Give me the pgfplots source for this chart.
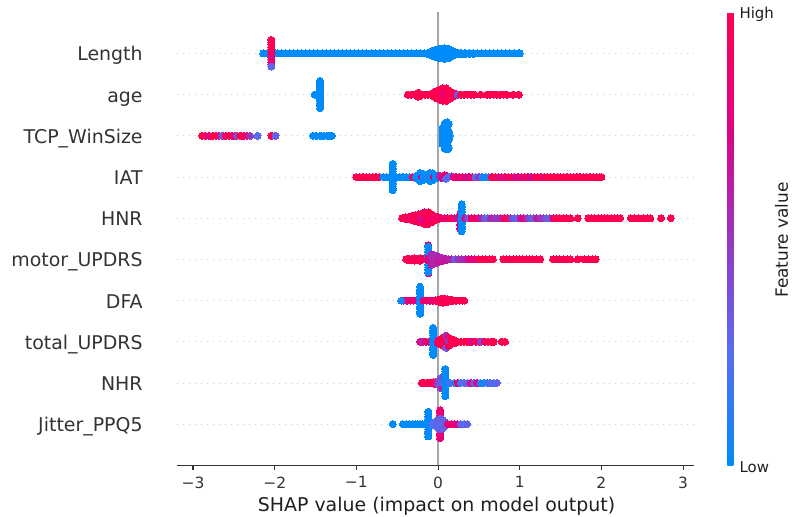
\documentclass[border=0pt]{standalone}
\usepackage{fontspec}
\setmainfont{DejaVu Sans}
\usepackage{pgfplots}
\pgfplotsset{compat=1.18}
\definecolor{txt}{RGB}{51,51,51}
\pgfplotsset{sw/.style={scatter,only marks,scatter src=explicit,mark=*,mark size=3.5bp,
  scatter/use mapped color={draw=mapped color,fill=mapped color},mark options={line width=0pt}}}
\begin{document}
\begin{tikzpicture}[x=1bp,y=1bp]
\path[use as bounding box] (0,0) rectangle (792,517);
\begin{axis}[
  at={(176.7bp,51.7bp)},anchor=south west,
  scale only axis,width=517.3bp,height=453bp,
  xmin=-3.2,xmax=3.134,ymin=-1,ymax=10,
  axis x line*=bottom,axis y line*=left,
  y axis line style={draw=none},
  x axis line style={draw=txt,line width=1.1bp,-},
  xtick={-3,-2,-1,0,1,2,3},
  xticklabels={−3,−2,−1,0,1,2,3},
  ytick={0,1,2,3,4,5,6,7,8,9},
  yticklabels={Jitter\_PPQ5,NHR,total\_UPDRS,DFA,motor\_UPDRS,HNR,IAT,TCP\_WinSize,age,Length},
  tick align=outside,
  xtick style={draw=txt,line width=1.1bp},
  ytick style={draw=none},
  major tick length=4.7bp,
  x tick label style={font=\fontsize{15.5}{18}\selectfont,text=txt,yshift=-3.2bp},
  y tick label style={font=\fontsize{19}{22}\selectfont,text=txt,inner sep=0pt,anchor=base east,xshift=-29.2bp,yshift=-7.5bp},
  xlabel={SHAP value (impact on model output)},
  xlabel style={font=\fontsize{19}{22}\selectfont,text=black!88,yshift=-2bp,xshift=1.2bp},
  ymajorgrids,
  major grid style={draw=black!20,line width=0.7bp,dash pattern=on 1bp off 5bp},
  clip=false,
  colormap={shap}{rgb255=(0,139,251) rgb255=(88,108,240) rgb255=(150,55,195) rgb255=(225,0,130) rgb255=(255,0,81)},
  point meta min=0,point meta max=1,
  colorbar,
  colorbar style={at={(1.0644,0)},anchor=south west,width=6bp,height=453bp,scale only axis,
    ytick={0,1},yticklabels={Low,High},major tick length=0pt,
    ytick style={draw=none},axis line style={draw=none},
    y tick label style={font=\fontsize{15}{18}\selectfont,text=black!88,inner sep=0pt,xshift=6bp,yshift=-2bp}},
]
% Length
\addplot[sw] coordinates {
(-2.14,9)[0](-2.09,9)[0](-1.99,9)[0](-1.96,9)[0](-1.92,9)[0](-1.87,9)[0](-1.82,9)[0](-1.77,9)[0](-1.72,9)[0](-1.67,9)[0](-1.62,9)[0](-1.57,9)[0](-1.52,9)[0](-1.47,9)[0](-1.42,9)[0](-1.37,9)[0](-1.32,9)[0](-1.27,9)[0](-1.22,9)[0](-1.17,9)[0](-1.12,9)[0](-1.07,9)[0](-1.02,9)[0](-0.97,9)[0](-0.92,9)[0](-0.87,9)[0](-0.82,9)[0](-0.77,9)[0](-0.72,9)[0](-0.67,9)[0](-0.62,9)[0](-0.57,9)[0](-0.52,9)[0](-0.47,9)[0](-0.42,9)[0](-0.37,9)[0](-0.32,9)[0](-0.27,9)[0](-0.22,9)[0](-0.17,9)[0]
(-0.12,9.02)[0](-0.12,8.98)[0](-0.08,9.05)[0](-0.08,8.95)[0](-0.04,9.075)[0](-0.04,8.925)[0](0,9.1)[0](0,8.9)[0](0,9)[0](0.04,9.12)[0](0.04,8.88)[0](0.04,9)[0](0.08,9.13)[0](0.08,8.87)[0](0.08,9)[0](0.12,9.12)[0](0.12,8.88)[0](0.12,9)[0](0.16,9.08)[0](0.16,8.92)[0](0.2,9.04)[0](0.2,8.96)[0](0.24,9.02)[0](0.24,8.98)[0]
(0.28,9.015)[0](0.28,8.985)[0](0.33,9.015)[0](0.33,8.985)[0](0.38,9.01)[0](0.38,8.99)[0](0.43,9.01)[0](0.43,8.99)[0](0.48,9)[0](0.53,9)[0](0.58,9)[0](0.63,9)[0](0.68,9)[0](0.73,9)[0](0.78,9)[0](0.83,9)[0](0.88,9)[0](0.93,9)[0](0.98,9)[0](1.0,9)[0]
(-2.04,9.33)[1](-2.04,9.27)[1](-2.04,9.21)[1](-2.04,9.15)[1](-2.04,9.09)[1](-2.04,9.03)[1](-2.04,8.97)[0.85](-2.04,8.91)[0.9](-2.04,8.85)[0.7](-2.04,8.79)[0.9](-2.04,8.73)[0.7](-2.04,8.68)[0.28]
};
% age
\addplot[sw] coordinates {
(-1.445,8.33)[0](-1.445,8.27)[0](-1.445,8.21)[0](-1.445,8.15)[0](-1.445,8.09)[0](-1.445,8.03)[0](-1.445,7.97)[0](-1.445,7.91)[0](-1.445,7.85)[0](-1.445,7.79)[0](-1.445,7.73)[0](-1.445,7.67)[0](-1.51,8)[0]
(-0.37,8)[1](-0.33,8)[1](-0.29,8)[1](-0.25,8)[1](-0.24,8.05)[1](-0.24,7.95)[1](-0.2,8)[1](-0.16,8)[1](-0.12,8)[1](-0.09,8)[1]
(-0.06,8.04)[1](-0.06,7.96)[1](-0.02,8.09)[1](-0.02,7.91)[1](-0.02,8)[1](0.02,8.12)[1](0.02,7.88)[1](0.02,8)[1](0.06,8.15)[1](0.06,7.85)[0.9](0.06,8.04)[0.8](0.1,8.15)[1](0.1,7.85)[1](0.1,8)[0.85](0.14,8.1)[1](0.14,7.9)[1](0.14,8)[1](0.18,8.05)[1](0.18,7.95)[1](0.22,8.02)[1](0.22,7.98)[0.9](0.24,8)[0.35](0.28,8)[1](0.32,8)[1](0.36,8)[1](0.40,8)[1](0.44,8)[1](0.52,8)[1](0.6,8)[1](0.64,8)[1](0.68,8)[1](0.72,8)[1](0.76,8)[1](0.8,8)[1](0.84,8)[1](0.92,8)[1](0.99,8)[1]
};
% TCP_WinSize
\addplot[sw] coordinates {
(-2.89,7)[1](-2.85,7)[1](-2.80,7)[0.75](-2.76,7)[1](-2.72,7)[1](-2.68,7)[0.9](-2.64,7)[0.35](-2.60,7)[1](-2.56,7)[0.9](-2.52,7)[1](-2.49,7)[0.85](-2.46,7)[0.35](-2.42,7)[1](-2.38,7)[0.9](-2.34,7)[1](-2.30,7)[0.5](-2.21,7)[0.25](-2.04,7)[1](-1.99,7)[0.3]
(-1.53,7)[0](-1.49,7)[0](-1.44,7)[0](-1.40,7)[0](-1.36,7)[0](-1.33,7)[0](-1.30,7)[0]
(0.056,7.2)[0](0.056,7.12)[0](0.056,7.04)[0](0.056,6.96)[0](0.056,6.88)[0](0.056,6.8)[0](0.08,7.3)[0](0.08,7.1)[0](0.08,6.9)[0](0.08,6.7)[0]
(0.11,7.33)[0](0.11,7.27)[0](0.11,7.21)[0](0.11,7.15)[0](0.11,7.09)[0](0.11,7.03)[0](0.11,6.97)[0](0.11,6.91)[0](0.11,6.85)[0](0.11,6.79)[0](0.11,6.73)[0](0.11,6.67)[0](0.145,7)[0](0.13,7.28)[0](0.13,6.7)[0](0.13,7.1)[0](0.13,6.9)[0]
};
% IAT
\addplot[sw] coordinates {
(-1.0,6)[1](-0.96,6)[1](-0.92,6)[1](-0.88,6)[1](-0.84,6)[1](-0.8,6)[1](-0.76,6)[1](-0.72,6)[1]
(-0.67,6)[0](-0.63,6)[0](-0.59,6)[0]
(-0.555,6.32)[0](-0.555,6.26)[0](-0.555,6.2)[0](-0.555,6.14)[0](-0.555,6.08)[0](-0.555,6.02)[0](-0.555,5.96)[0](-0.555,5.9)[0](-0.555,5.84)[0](-0.555,5.78)[0](-0.555,5.72)[0](-0.555,5.68)[0]
(-0.51,6)[0](-0.47,6)[0](-0.43,6)[0](-0.39,6)[0](-0.35,6)[0](-0.31,6)[0.95](-0.27,6)[0]
(-0.25,6.05)[0](-0.25,5.95)[0](-0.22,6.1)[0](-0.22,5.9)[0](-0.2,6)[0.75](-0.18,6.07)[0](-0.18,5.93)[0](-0.14,6.06)[0](-0.14,5.94)[0](-0.12,6)[0.1](-0.1,6.1)[0](-0.1,5.9)[0](-0.07,6.09)[0](-0.07,5.92)[0](-0.05,6)[0.8](-0.03,6.04)[0](-0.03,5.96)[0]
(0.02,6.03)[0.6](0.05,5.97)[0.7](0.08,6.05)[0.8](0.1,5.96)[0.25](0.13,6)[0.2](0.16,6.02)[0.25](0.19,6)[0.75](0.22,6)[0.8](0.26,6)[0.85](0.3,6)[0.9](0.34,6)[0.7](0.38,6)[0.75](0.42,6)[0.85](0.46,6)[0.25](0.5,6)[0.5](0.54,6)[0.1](0.58,6)[0.05](0.62,6)[0.1]
(0.66,6)[1](0.7,6)[1](0.74,6)[0.7](0.78,6)[1](0.82,6)[0.7](0.86,6)[0.9](0.9,6)[1](0.94,6)[0.7](0.98,6)[0.85](1.02,6)[0.7](1.06,6)[1](1.1,6)[0.8](1.14,6)[0.7](1.18,6)[0.85](1.22,6)[1](1.26,6)[1](1.3,6)[0.8](1.34,6)[1](1.38,6)[1](1.42,6)[1](1.46,6)[1](1.5,6)[1](1.54,6)[1](1.58,6)[1](1.62,6)[1](1.66,6)[1](1.7,6)[1](1.74,6)[1](1.78,6)[1](1.82,6)[1](1.86,6)[1](1.9,6)[1](1.94,6)[1](1.98,6)[1](2.0,6)[1]
};
% HNR
\addplot[sw] coordinates {
(-0.44,5)[1](-0.40,5.02)[1](-0.40,4.98)[1](-0.36,5.03)[1](-0.36,4.97)[0.85](-0.32,5.05)[1](-0.32,4.95)[1](-0.32,5)[0.9](-0.28,5.07)[0.85](-0.28,4.93)[1](-0.28,5)[1](-0.24,5.09)[1](-0.24,4.91)[0.85](-0.24,5)[0.95](-0.2,5.11)[1](-0.2,4.89)[1](-0.2,5)[0.65](-0.16,5.14)[0.85](-0.16,4.86)[1](-0.16,5.05)[1](-0.16,4.95)[0.85](-0.12,5.14)[1](-0.12,4.86)[0.9](-0.12,5)[1](-0.08,5.1)[1](-0.08,4.9)[1](-0.08,5)[0.85](-0.04,5.05)[1](-0.04,4.95)[1](-0.04,5)[0.9](0,5.02)[0.85](0,4.98)[1]
(0.04,5)[0.75](0.08,5)[1](0.12,5)[0.8](0.16,5)[1](0.2,5)[0.85](0.24,5)[0.65](0.27,4.85)[0.8](0.27,4.75)[0.8](0.27,5.1)[0.8]
(0.29,5.34)[0](0.29,5.28)[0](0.29,5.22)[0](0.29,5.16)[0](0.29,5.1)[0](0.29,5.04)[0](0.29,4.98)[0](0.29,4.92)[0](0.29,4.86)[0](0.29,4.8)[0](0.29,4.74)[0](0.29,4.68)[0]
(0.33,5)[0.7](0.37,5)[0.35](0.41,5)[0.8](0.45,5)[1](0.49,5)[0.8](0.53,5)[0.6](0.57,5)[0.35](0.61,5)[0.3](0.65,5)[0.6](0.69,5)[0.5](0.73,5)[0.5](0.77,5)[0.55](0.81,5)[0.9](0.85,5)[1](0.89,5)[0.55](0.93,5)[0.3](0.97,5)[0.3](1.01,5)[0.65](1.05,5)[0.8](1.09,5)[0.55](1.13,5)[0.35](1.17,5)[0.3](1.21,5)[0.65](1.25,5)[0.55](1.29,5)[0.5](1.33,5)[0.35](1.37,5)[0.3](1.41,5)[0.85]
(1.45,5)[1](1.49,5)[1](1.53,5)[1](1.57,5)[1](1.62,5)[1](1.71,5)[1](1.84,5)[1](1.88,5)[1](1.92,5)[1](1.96,5)[1](2.0,5)[1](2.04,5)[1](2.08,5)[1](2.12,5)[1](2.16,5)[1](2.2,5)[1](2.23,5)[1](2.36,5)[1](2.41,5)[1](2.46,5)[1](2.51,5)[1](2.56,5)[1](2.6,5)[1](2.73,5)[1](2.85,5)[1]
};
% motor_UPDRS
\addplot[sw] coordinates {
(-0.39,4)[1](-0.36,4.02)[1](-0.36,3.98)[1](-0.32,4)[0.9](-0.29,4.03)[1](-0.29,3.97)[0.95](-0.25,4)[1](-0.22,4.03)[0.9](-0.22,3.97)[1](-0.18,4)[0.85](-0.15,4.02)[1]
(-0.12,4.34)[0.8](-0.12,3.66)[0.8]
(-0.12,4.31)[0](-0.12,4.25)[0](-0.12,4.19)[0](-0.12,4.13)[0](-0.12,4.07)[0](-0.12,3.93)[0](-0.12,3.87)[0](-0.12,3.81)[0](-0.12,3.75)[0](-0.12,3.69)[0]
(-0.12,4.02)[0.9](-0.12,3.98)[0.8]
(-0.08,4.13)[0.55](-0.08,3.87)[0.6](-0.07,4)[0.55](-0.04,4.1)[0.55](-0.04,3.9)[0.6](-0.02,4)[0.6](0.01,4.06)[0.6](0.01,3.94)[0.65](0.05,4.04)[0.55](0.05,3.96)[0.65](0.09,4.02)[0.6](0.09,3.98)[0.65](0.13,4)[0.6](0.17,4)[0.6](0.21,4)[0.3](0.25,4)[0.5](0.29,4)[0.55](0.33,4)[0.55](0.37,4)[0.7](0.41,4)[0.8](0.45,4)[0.75]
(0.5,4)[1](0.54,4)[1](0.58,4)[1](0.63,4)[1](0.67,4)[1](0.8,4)[1](0.84,4)[1](0.88,4)[1](0.92,4)[1](0.96,4)[1](1.0,4)[1](1.04,4)[1](1.08,4)[1](1.12,4)[1](1.16,4)[1](1.2,4)[1](1.25,4)[1](1.41,4)[1](1.45,4)[1](1.49,4)[1](1.54,4)[1](1.58,4)[1](1.62,4)[1](1.71,4)[1](1.79,4)[1](1.84,4)[1](1.93,4)[1](1.89,4)[1]
};
% DFA
\addplot[sw] coordinates {
(-0.42,3)[0.8](-0.38,3)[0.8](-0.34,3)[0.85](-0.3,3)[0.8](-0.26,3)[0.8]
(-0.45,3)[0.05]
(-0.22,3.34)[0](-0.22,3.28)[0](-0.22,3.22)[0](-0.22,3.16)[0](-0.22,3.1)[0](-0.22,3.04)[0](-0.22,2.98)[0](-0.22,2.92)[0](-0.22,2.86)[0](-0.22,2.8)[0](-0.22,2.74)[0](-0.22,2.68)[0]
(-0.18,3)[0.8](-0.14,3)[0.85](-0.1,3)[0.8](-0.06,3)[0.85](-0.03,3.01)[0.9](0,3.02)[1](0,2.98)[0.85](0.03,3.04)[1](0.03,2.96)[1](0.06,3.05)[1](0.06,2.95)[1](0.09,3.04)[1](0.09,2.96)[0.9](0.12,3.03)[0.9](0.12,2.97)[1](0.15,3.02)[1](0.15,2.98)[1](0.18,3.01)[1](0.18,2.99)[1](0.22,3)[1](0.26,3)[1](0.3,3)[1](0.32,3)[1]
};
% total_UPDRS
\addplot[sw] coordinates {
(-0.22,2)[0.8](-0.19,2)[0.55](-0.15,2)[0.85](-0.11,2)[0.9](-0.07,2)[0.85]
(-0.06,2.34)[0](-0.06,2.28)[0](-0.06,2.22)[0](-0.06,2.16)[0](-0.06,2.1)[0](-0.06,2.04)[0](-0.06,1.98)[0](-0.06,1.92)[0](-0.06,1.86)[0](-0.06,1.8)[0](-0.06,1.74)[0](-0.06,1.68)[0]
(0,2.03)[1](0,1.97)[0.9](0.03,2.06)[1](0.03,1.94)[1](0.06,2.1)[1](0.06,1.9)[1](0.06,2)[1](0.1,2.15)[0.55](0.1,1.85)[0.35](0.1,2)[1](0.13,2.1)[1](0.13,1.9)[0.9](0.13,2.03)[0.45](0.16,2.06)[1](0.16,1.94)[1](0.2,2.04)[1](0.2,1.96)[1](0.24,2)[1](0.28,2)[1](0.32,2)[1](0.36,2)[1](0.39,2)[1](0.42,2)[0.7](0.46,2)[1](0.5,2)[0.9](0.53,2)[0.4](0.57,2)[0.9](0.61,2)[1](0.65,2)[1](0.68,2)[1](0.78,2)[1](0.82,2)[1]
};
% zero line
\addplot[draw=black!35,line width=2.6bp,forget plot] coordinates {(0,-1)(0,10)};
% NHR
\addplot[sw] coordinates {
(-0.2,1)[1](-0.17,1)[1](-0.14,1)[1](-0.11,1.01)[1](-0.11,0.99)[1](-0.08,1.01)[1](-0.08,0.99)[0.95](-0.05,1.02)[1](-0.05,0.98)[1](-0.02,1.02)[0.95](-0.02,0.98)[0.9]
(0,1.04)[0.45](0,0.96)[0.4](0.03,1.12)[0.35](0.03,0.88)[0.4](0.03,1)[0.35](0.06,1.1)[0.4](0.06,0.9)[0.85](0.06,1)[0.3]
(0.09,1.34)[0](0.09,1.28)[0](0.09,1.22)[0](0.09,1.16)[0](0.09,1.1)[0](0.09,1.04)[0](0.09,0.98)[0.05](0.09,0.92)[0](0.09,0.86)[0](0.09,0.8)[0](0.09,0.74)[0](0.09,0.68)[0]
(0.15,1)[0.2](0.2,1)[0.15](0.24,1)[0.85](0.28,1)[0.15](0.32,1)[0.25](0.36,1)[0.3](0.40,1)[0.75](0.44,1)[0.3](0.48,1)[0.75](0.52,1)[0.1](0.56,1)[0.05](0.6,1)[0.1](0.64,1)[0.3](0.68,1)[0.15](0.72,1)[0.3]
};
% Jitter_PPQ5
\addplot[sw] coordinates {
(-0.555,0)[0](-0.43,0)[0](-0.39,0)[0](-0.355,0)[0](-0.31,0)[0](-0.28,0)[0](-0.25,0)[0](-0.22,0)[0](-0.19,0)[0](-0.16,0)[0]
(-0.12,0.3)[0](-0.12,0.24)[0](-0.12,0.18)[0](-0.12,0.12)[0](-0.12,0.06)[0](-0.12,0)[0](-0.12,-0.06)[0](-0.12,-0.12)[0](-0.12,-0.18)[0](-0.12,-0.24)[0.1](-0.12,-0.3)[0]
(-0.08,0)[0.2](-0.05,0)[0.2]
(0.025,0.34)[0.8](0.025,0.28)[0.85](0.025,0.22)[0.8](0.025,0.16)[0.85](0.025,-0.16)[0.8](0.025,-0.22)[0.85](0.025,-0.28)[0.8](0.025,-0.34)[0.8]
(-0.04,0.04)[0.25](-0.04,-0.04)[0.25](0,0.1)[0.3](0,-0.1)[0.25](0.03,0.13)[0.3](0.03,-0.13)[0.35](0.03,0)[0.25](0.06,0.1)[0.3](0.06,-0.1)[0.3](0.09,0.04)[0.3](0.09,-0.04)[0.3]
(0.12,0)[0.8](0.16,0)[0.85](0.2,0)[0.8](0.24,0)[0.75](0.28,0)[0.3](0.32,0)[0.25](0.355,0)[0.3]
};
\end{axis}
\node[rotate=90,font=\fontsize{17}{20}\selectfont,text=black!88] at (781.5,277) {Feature value};
\end{tikzpicture}
\end{document}
